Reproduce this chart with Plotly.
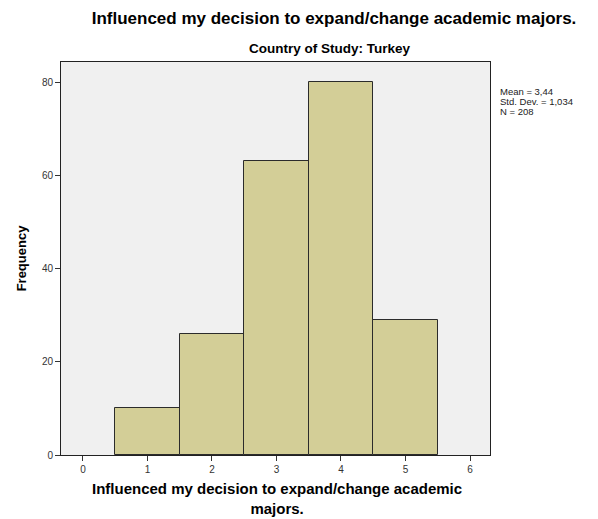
import plotly.graph_objects as go

categories = [1, 2, 3, 4, 5]
frequencies = [10, 26, 63, 80, 29]
x_ticks = [0, 1, 2, 3, 4, 5, 6]
y_ticks = [0, 20, 40, 60, 80]
stats_lines = ["Mean = 3,44", "Std. Dev. = 1,034", "N = 208"]
x_title_lines = ["Influenced my decision to expand/change academic", "majors."]

FONT = "Liberation Sans, Arial, sans-serif"
H = 519
PLOT_TOP, PLOT_BOTTOM = 62, 455

fig = go.Figure()
fig.add_trace(go.Bar(
    x=categories, y=frequencies, width=1.0,
    marker=dict(color="#D3CE97", line=dict(color="#2b2b2b", width=1)),
    hoverinfo="skip", showlegend=False,
))

annotations = [
    dict(text="<b>Country of Study: Turkey</b>", xref="paper", yref="paper",
         x=0.627, y=1, yanchor="bottom", xanchor="center", yshift=4,
         showarrow=False, font=dict(size=13.5, color="black", family=FONT)),
]
for i, line in enumerate(stats_lines):
    annotations.append(dict(
        text=line, xref="paper", yref="paper", x=1, y=1,
        xanchor="left", yanchor="middle", xshift=8, yshift=-(29 + 10 * i),
        showarrow=False, font=dict(size=9.5, color="#222", family=FONT)))
annotations.append(dict(
    text="<br>".join("<b>" + l + "</b>" for l in x_title_lines),
    xref="paper", yref="paper", x=0.503, y=0,
    xanchor="center", yanchor="middle", yshift=-43,
    showarrow=False, font=dict(size=15, color="black", family=FONT)))

fig.update_layout(
    width=598, height=H,
    margin=dict(l=61, r=108, t=PLOT_TOP, b=H - PLOT_BOTTOM),
    paper_bgcolor="white", plot_bgcolor="#F0F0F0",
    font=dict(family=FONT, color="#222"),
    bargap=0,
    title=dict(text="<b>Influenced my decision to expand/change academic majors.</b>",
               x=334 / 598, xanchor="center", y=1 - 18 / H, yanchor="middle",
               font=dict(size=17, color="black", family=FONT)),
    annotations=annotations,
)

fig.update_xaxes(
    range=[-0.34, 6.31], tickvals=x_ticks, ticktext=[str(v) for v in x_ticks],
    ticks="outside", ticklen=5, tickcolor="#333", showgrid=False, zeroline=False,
    showline=True, linecolor="#222", linewidth=1, mirror=True,
    tickfont=dict(size=10, color="#333"),
)
fig.update_yaxes(
    range=[0, 84.3], tickvals=y_ticks, ticktext=[str(v) for v in y_ticks],
    ticks="outside", ticklen=5, tickcolor="#333", showgrid=False, zeroline=False,
    showline=True, linecolor="#222", linewidth=1, mirror=True,
    tickfont=dict(size=10, color="#333"),
    title=dict(text="<b>Frequency</b>", font=dict(size=13, color="black"), standoff=12),
)

fig.write_html("out.html", config={"displayModeBar": False},
               post_script="document.body.style.margin='0';")
